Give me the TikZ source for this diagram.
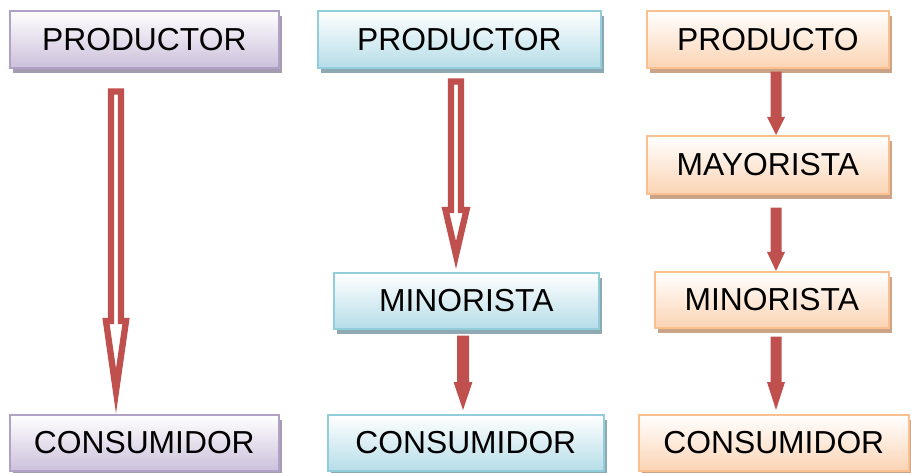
\documentclass[tikz,border=0pt]{standalone}
\usepackage{fontspec}
\setmainfont{Liberation Sans}
\usetikzlibrary{shadows,calc}
\definecolor{arrowred}{HTML}{C0504D}
\definecolor{purpleborder}{HTML}{B2A1C7}
\definecolor{purplefill}{HTML}{CCC0DB}
\definecolor{purpleshadow}{HTML}{A59CB1}
\definecolor{blueborder}{HTML}{92CDDC}
\definecolor{bluefill}{HTML}{B6DDE8}
\definecolor{blueshadow}{HTML}{8FA9B3}
\definecolor{orangeborder}{HTML}{FAC08F}
\definecolor{orangefill}{HTML}{FBD4B4}
\definecolor{orangeshadow}{HTML}{CBA386}
\begin{document}
\begin{tikzpicture}[x=1pt,y=-1pt,
  box/.style={draw, line width=1.6pt, inner sep=0pt, anchor=north west,
    font=\fontsize{31.8}{36}\selectfont, text=black, top color=white},
  purplebox/.style={box, draw=purpleborder, bottom color=purplefill,
    drop shadow={shadow xshift=3.5pt, shadow yshift=-5.5pt, fill=purpleshadow, opacity=1}},
  bluebox/.style={box, draw=blueborder, bottom color=bluefill,
    drop shadow={shadow xshift=3.5pt, shadow yshift=-5.5pt, fill=blueshadow, opacity=1}},
  orangebox/.style={box, draw=orangeborder, bottom color=orangefill,
    drop shadow={shadow xshift=3.5pt, shadow yshift=-5.5pt, fill=orangeshadow, opacity=1}},
  hollowarrow/.style={draw=arrowred, line width=6.3pt, fill=white, line join=miter},
  solidarrow/.style={fill=arrowred}
]
\useasboundingbox (0,0) rectangle (911,473);

% column 1
\node[purplebox, minimum width=269pt, minimum height=57pt] (p1) at (9,10) {PRODUCTOR};
\node[purplebox, minimum width=269pt, minimum height=56pt] (c1) at (9,414) {CONSUMIDOR};
% column 2
\node[bluebox, minimum width=283pt, minimum height=57pt] (p2) at (317,10) {PRODUCTOR};
\node[bluebox, minimum width=265pt, minimum height=56pt] (m2) at (333,272) {MINORISTA};
\node[bluebox, minimum width=276pt, minimum height=56pt] (c2) at (327,414) {CONSUMIDOR};
% column 3
\node[orangebox, minimum width=242pt, minimum height=57pt] (p3) at (646,10) {PRODUCTO};
\node[orangebox, minimum width=242pt, minimum height=58pt] (y3) at (646,135) {MAYORISTA};
\node[orangebox, minimum width=234pt, minimum height=56pt] (n3) at (654,271) {MINORISTA};
\node[orangebox, minimum width=270pt, minimum height=56pt] (c3) at (638,414) {CONSUMIDOR};

% arrow axes
\coordinate (x1) at (116,0);
\coordinate (x2) at (456,0);
\coordinate (x2b) at (463,0);
\coordinate (x3) at (776,0);

% hollow arrow column 1
\draw[hollowarrow] ($(p1.south -| x1)+(-5,23)$) -- ($(c1.north -| x1)+(-5,-93)$)
  -- ($(c1.north -| x1)+(-10,-93)$) -- ($(c1.north -| x1)+(0,-23)$)
  -- ($(c1.north -| x1)+(10,-93)$) -- ($(c1.north -| x1)+(5,-93)$)
  -- ($(p1.south -| x1)+(5,23)$) -- cycle;

% hollow arrow column 2
\draw[hollowarrow] ($(p2.south -| x2)+(-5,13)$) -- ($(m2.north -| x2)+(-5,-62)$)
  -- ($(m2.north -| x2)+(-10.5,-62)$) -- ($(m2.north -| x2)+(0,-17)$)
  -- ($(m2.north -| x2)+(10.5,-62)$) -- ($(m2.north -| x2)+(5,-62)$)
  -- ($(p2.south -| x2)+(5,13)$) -- cycle;

% solid arrow column 2
\fill[solidarrow] ($(m2.south -| x2b)+(-6,6)$) -- ($(c2.north -| x2b)+(-6,-32)$)
  -- ($(c2.north -| x2b)+(-9.5,-32)$) -- ($(c2.north -| x2b)+(0,-4)$)
  -- ($(c2.north -| x2b)+(9.5,-32)$) -- ($(c2.north -| x2b)+(6,-32)$)
  -- ($(m2.south -| x2b)+(6,6)$) -- cycle;

% solid arrows column 3
\fill[solidarrow] ($(p3.south -| x3)+(-5.5,3)$) -- ($(y3.north -| x3)+(-5.5,-18)$)
  -- ($(y3.north -| x3)+(-9,-18)$) -- ($(y3.north -| x3)+(0,0)$)
  -- ($(y3.north -| x3)+(9,-18)$) -- ($(y3.north -| x3)+(5.5,-18)$)
  -- ($(p3.south -| x3)+(5.5,3)$) -- cycle;
\fill[solidarrow] ($(y3.south -| x3)+(-5.5,13)$) -- ($(n3.north -| x3)+(-5.5,-19)$)
  -- ($(n3.north -| x3)+(-9,-19)$) -- ($(n3.north -| x3)+(0,0)$)
  -- ($(n3.north -| x3)+(9,-19)$) -- ($(n3.north -| x3)+(5.5,-19)$)
  -- ($(y3.south -| x3)+(5.5,13)$) -- cycle;
\fill[solidarrow] ($(n3.south -| x3)+(-5.5,8)$) -- ($(c3.north -| x3)+(-5.5,-32)$)
  -- ($(c3.north -| x3)+(-9,-32)$) -- ($(c3.north -| x3)+(0,-4)$)
  -- ($(c3.north -| x3)+(9,-32)$) -- ($(c3.north -| x3)+(5.5,-32)$)
  -- ($(n3.south -| x3)+(5.5,8)$) -- cycle;
\end{tikzpicture}
\end{document}
